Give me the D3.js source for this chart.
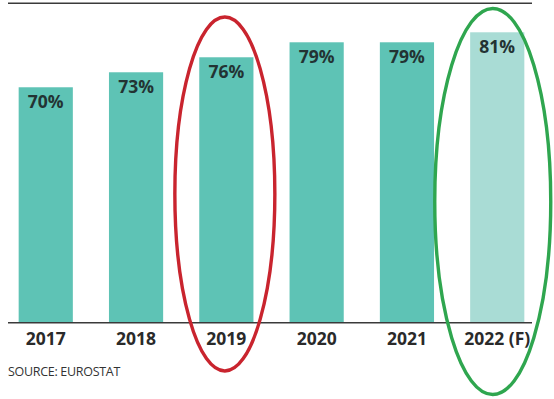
<!DOCTYPE html>
<html>
<head>
<meta charset="utf-8">
<script src="https://cdn.jsdelivr.net/npm/d3@7"></script>
<style>
  html, body { margin: 0; padding: 0; background: #fff; }
  svg { display: block; }
</style>
</head>
<body>
<svg id="chart" width="554" height="399"></svg>
<script>
// Share by year, with 2022 a forecast
const years = ["2017", "2018", "2019", "2020", "2021", "2022"];
const yearLabels = ["2017", "2018", "2019", "2020", "2021", "2022 (F)"];
const values = [70, 73, 76, 79, 79, 81];
const forecast = [false, false, false, false, false, true];
const highlighted = [
  { year: "2019", color: "#c9242e" },
  { year: "2022", color: "#2fa64f" }
];
const sourceNote = "SOURCE: EUROSTAT";

const svg = d3.select("#chart");

const x = d3.scaleBand()
  .domain(years)
  .range([0.6, 542.4])
  .paddingInner(0.4)
  .paddingOuter(0.2);

const y = d3.scaleLinear()
  .domain([22.9, 86.8])
  .range([322.7, 3.3]);

const ruleX0 = 8, ruleX1 = 532;

// top rule
svg.append("line")
  .attr("x1", ruleX0).attr("x2", ruleX1)
  .attr("y1", y.range()[1]).attr("y2", y.range()[1])
  .attr("stroke", "#3a3a3a").attr("stroke-width", 1.6);

const data = years.map((yr, i) => ({ yr, label: yearLabels[i], v: values[i], f: forecast[i] }));

// bars
svg.selectAll("rect.bar")
  .data(data)
  .join("rect")
  .attr("class", "bar")
  .attr("x", d => x(d.yr))
  .attr("width", x.bandwidth())
  .attr("y", d => y(d.v))
  .attr("height", d => y.range()[0] - y(d.v))
  .attr("fill", d => d.f ? "#a9dcd5" : "#5ec3b5");

// value labels inside bar tops
svg.selectAll("text.val")
  .data(data)
  .join("text")
  .attr("class", "val")
  .attr("x", d => x(d.yr) + x.bandwidth() / 2)
  .attr("y", d => y(d.v) + 21)
  .attr("text-anchor", "middle")
  .attr("font-family", "'Open Sans', sans-serif")
  .attr("font-weight", 700)
  .attr("font-size", 17.5)
  .attr("fill", "#233333")
  .text(d => d.v + "%");

// baseline
svg.append("line")
  .attr("x1", ruleX0).attr("x2", ruleX1)
  .attr("y1", y.range()[0]).attr("y2", y.range()[0])
  .attr("stroke", "#3a3a3a").attr("stroke-width", 1.6);

// year axis
const xAxis = d3.axisBottom(x)
  .tickSize(0)
  .tickPadding(0)
  .tickFormat((d, i) => yearLabels[i]);

const gx = svg.append("g")
  .attr("transform", `translate(0,${y.range()[0]})`)
  .call(xAxis);
gx.select(".domain").remove();
gx.selectAll("text")
  .attr("dy", null)
  .attr("y", 22.5)
  .attr("font-family", "'Open Sans', sans-serif")
  .attr("font-weight", 700)
  .attr("font-size", 17.5)
  .attr("fill", "#2a2a2a");

// source note
svg.append("text")
  .attr("x", 8)
  .attr("y", 376)
  .attr("font-family", "'Open Sans', sans-serif")
  .attr("font-size", 12.5)
  .attr("letter-spacing", -0.3)
  .attr("fill", "#333")
  .text(sourceNote);

// hand-drawn style rings around the highlighted years
const ringGeom = {
  "2019": { dx: -1.5, rx: 50, cy: 194, ry: 177 },
  "2022": { dx: -4.5, rx: 58, cy: 201.5, ry: 193 }
};
svg.selectAll("ellipse.ring")
  .data(highlighted)
  .join("ellipse")
  .attr("class", "ring")
  .attr("cx", d => x(d.year) + x.bandwidth() / 2 + ringGeom[d.year].dx)
  .attr("cy", d => ringGeom[d.year].cy)
  .attr("rx", d => ringGeom[d.year].rx)
  .attr("ry", d => ringGeom[d.year].ry)
  .attr("fill", "none")
  .attr("stroke", d => d.color)
  .attr("stroke-width", 3.4);
</script>
</body>
</html>
